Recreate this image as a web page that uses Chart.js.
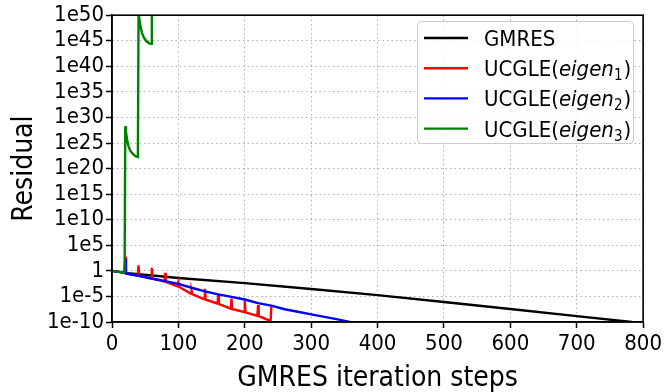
<!DOCTYPE html>
<html><head><meta charset="utf-8">
<script src="https://cdn.jsdelivr.net/npm/chart.js@4.4.1/dist/chart.umd.min.js"></script>
<style>html,body{margin:0;padding:0;background:#fff;}#wrap{width:665px;height:392px;position:relative;}</style>
</head><body><div id="wrap"><canvas id="c" width="665" height="392"></canvas></div>
<script>
// ---- data (x = GMRES step, y = log10 of residual) ----
const xTickValues = [0, 100, 200, 300, 400, 500, 600, 700, 800];
const yTickExponents = [-10, -5, 0, 5, 10, 15, 20, 25, 30, 35, 40, 45, 50];

const gmresX = [0, 20, 100, 200, 300, 400, 500, 600, 700, 783];
const gmresY = [0, -0.4, -1.4, -2.4, -3.55, -4.75, -6.1, -7.45, -8.85, -10];

const eig1X = [0, 19, 20, 21, 39, 40, 41, 59, 60, 61, 79, 80, 81, 99, 100, 101, 119, 120, 121, 139, 140, 141, 159, 160, 161, 179, 180, 181, 199, 200, 201, 219, 220, 221, 239, 240];
const eig1Y = [0, -0.35, 2.8, -0.5, -0.9, 1.1, -0.95, -1.5, 0.6, -1.55, -2.1, -0.4, -2.15, -3.05, -2.3, -3.1, -4.5, -4.0, -4.55, -5.55, -3.5, -5.6, -6.4, -4.75, -6.45, -7.4, -5.4, -7.45, -8.05, -5.85, -8.1, -8.8, -6.7, -8.85, -9.8, -7.0];

const eig2X = [0, 19, 20, 21, 40, 60, 80, 100, 120, 140, 160, 180, 200, 220, 240, 260, 280, 300, 320, 340, 358];
const eig2Y = [0, -0.35, 2.3, -0.5, -0.95, -1.5, -2.0, -2.55, -3.3, -4.0, -4.6, -5.1, -5.6, -6.3, -6.8, -7.5, -8.0, -8.5, -9.0, -9.5, -10];

const eig3X = [0, 19, 20, 21, 23, 25, 28, 32, 36, 39, 40, 41, 43, 45, 48, 52, 56, 59, 60];
const eig3Y = [0, -0.35, 28.3, 27.2, 25.5, 24.3, 23.4, 22.8, 22.4, 22.3, 50.6, 49.5, 47.8, 46.6, 45.6, 44.9, 44.5, 44.4, 75];

const legendMain = ['GMRES', 'UCGLE(', 'UCGLE(', 'UCGLE('];
const legendItalic = ['', 'eigen', 'eigen', 'eigen'];
const legendSub = ['', '1', '2', '3'];
const legendClose = ['', ')', ')', ')'];
const seriesColors = ['#000000', '#ff0000', '#0000ff', '#008000'];

const FONT = "'Liberation Sans Narrow', 'DejaVu Sans Condensed', 'Liberation Sans', sans-serif";

function pts(xs, ys) { return xs.map((x, i) => ({x: x, y: ys[i]})); }
const seriesX = [gmresX, eig1X, eig2X, eig3X];
const seriesY = [gmresY, eig1Y, eig2Y, eig3Y];

const datasets = seriesX.map((xs, i) => ({
  label: legendMain[i] + legendItalic[i] + legendSub[i] + legendClose[i],
  data: pts(xs, seriesY[i]),
  borderColor: seriesColors[i],
  backgroundColor: seriesColors[i],
  borderWidth: 2.4,
  pointRadius: 0,
  tension: 0,
  fill: false,
  order: 4 - i
}));

const framePlugin = {
  id: 'frame',
  afterDraw(chart) {
    const a = chart.chartArea, ctx = chart.ctx;
    ctx.save();
    ctx.strokeStyle = '#000'; ctx.lineWidth = 1.6;
    ctx.strokeRect(a.left, a.top, a.right - a.left, a.bottom - a.top);
    ctx.restore();
  }
};

const legendPlugin = {
  id: 'mathLegend',
  afterDraw(chart) {
    const ctx = chart.ctx;
    ctx.save();
    const bx = 417.5, by = 21.5, bw = 216, bh = 122, r = 4;
    ctx.beginPath();
    ctx.moveTo(bx + r, by); ctx.lineTo(bx + bw - r, by); ctx.quadraticCurveTo(bx + bw, by, bx + bw, by + r);
    ctx.lineTo(bx + bw, by + bh - r); ctx.quadraticCurveTo(bx + bw, by + bh, bx + bw - r, by + bh);
    ctx.lineTo(bx + r, by + bh); ctx.quadraticCurveTo(bx, by + bh, bx, by + bh - r);
    ctx.lineTo(bx, by + r); ctx.quadraticCurveTo(bx, by, bx + r, by);
    ctx.closePath();
    ctx.fillStyle = 'rgba(255,255,255,0.85)'; ctx.fill();
    ctx.strokeStyle = '#cccccc'; ctx.lineWidth = 1; ctx.stroke();
    const size = 22;
    for (let i = 0; i < legendMain.length; i++) {
      const y = 38 + i * 30.2;
      ctx.strokeStyle = seriesColors[i]; ctx.lineWidth = 2.4;
      ctx.beginPath(); ctx.moveTo(424, y); ctx.lineTo(468, y); ctx.stroke();
      ctx.fillStyle = '#000'; ctx.textBaseline = 'alphabetic'; ctx.textAlign = 'left';
      let x = 484; const base = y + 8;
      ctx.font = size + 'px ' + FONT;
      ctx.fillText(legendMain[i], x, base); x += ctx.measureText(legendMain[i]).width;
      if (legendItalic[i]) {
        ctx.font = 'italic ' + size + 'px ' + FONT;
        ctx.fillText(legendItalic[i], x, base); x += ctx.measureText(legendItalic[i]).width;
        ctx.font = Math.round(size * 0.7) + 'px ' + FONT;
        ctx.fillText(legendSub[i], x, base + 4); x += ctx.measureText(legendSub[i]).width + 1;
        ctx.font = size + 'px ' + FONT;
        ctx.fillText(legendClose[i], x, base);
      }
    }
    ctx.restore();
  }
};

new Chart(document.getElementById('c'), {
  type: 'line',
  data: { datasets: datasets },
  plugins: [framePlugin, legendPlugin],
  options: {
    responsive: false,
    animation: false,
    layout: { padding: { top: 14, right: 19, left: 8, bottom: 0 } },
    plugins: { legend: { display: false }, tooltip: { enabled: false } },
    scales: {
      x: {
        type: 'linear', min: 0, max: 800,
        afterBuildTicks: s => { s.ticks = xTickValues.map(v => ({ value: v })); },
        grid: { color: '#b0b0b0', lineWidth: 1, tickColor: '#000', tickLength: 6, tickWidth: 1.5 },
        border: { display: true, color: '#000', width: 1.5, dash: [1.5, 3] },
        ticks: { color: '#000', font: { family: FONT, size: 22 }, padding: 3, maxRotation: 0, autoSkip: false },
        title: { display: true, text: 'GMRES iteration steps', color: '#000', font: { family: FONT, size: 28 }, padding: { top: 0, bottom: -4 } },
        afterFit: s => { s.height = 70; }
      },
      y: {
        type: 'linear', min: -10, max: 50,
        afterBuildTicks: s => { s.ticks = yTickExponents.map(v => ({ value: v })); },
        grid: { color: '#b0b0b0', lineWidth: 1, tickColor: '#000', tickLength: 6, tickWidth: 1.5 },
        border: { display: true, color: '#000', width: 1.5, dash: [1.5, 3] },
        ticks: { color: '#000', font: { family: FONT, size: 22 }, padding: 2, autoSkip: false,
          callback: v => (v === 0 ? '1' : '1e' + v) },
        title: { display: true, text: 'Residual', color: '#000', font: { family: FONT, size: 28 }, padding: 0 },
        afterFit: s => { s.width = 104; }
      }
    }
  }
});
</script></body></html>
